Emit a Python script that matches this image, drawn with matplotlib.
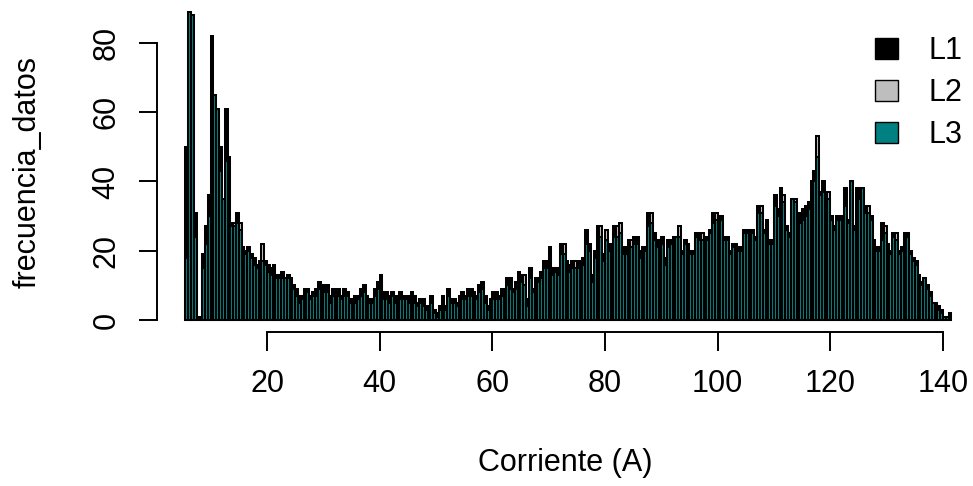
import numpy as np
import matplotlib
matplotlib.use('Agg')
import matplotlib.pyplot as plt
from matplotlib.patches import Patch

plt.rcParams['font.family'] = ['Liberation Sans', 'DejaVu Sans']

# histogramas de corriente por linea, clases de 0.5 A desde 5.5 A
inicio = 5.5
ancho = 0.5

L1 = [50, 84, 80, 31, 0, 1, 19, 27, 36, 82,
      60, 57, 50, 33, 61, 44, 28, 26, 31, 25,
      21, 20, 21, 19, 18, 16, 17, 18, 17, 16,
      15, 16, 13, 13, 14, 12, 13, 12, 10, 9,
      7, 7, 9, 9, 7, 8, 9, 11, 10, 10,
      10, 7, 9, 7, 9, 7, 9, 8, 6, 6,
      7, 7, 9, 10, 7, 6, 6, 9, 11, 13,
      8, 8, 7, 8, 7, 6, 8, 7, 7, 7,
      8, 7, 5, 6, 6, 4, 4, 7, 3, 2,
      4, 7, 4, 9, 6, 6, 5, 7, 8, 7,
      9, 9, 8, 7, 10, 11, 7, 4, 6, 8,
      8, 7, 9, 8, 12, 12, 9, 11, 14, 13,
      12, 6, 15, 9, 12, 12, 14, 17, 17, 19,
      15, 15, 15, 22, 20, 17, 16, 17, 16, 17,
      15, 18, 26, 22, 13, 20, 27, 25, 19, 24,
      22, 21, 27, 25, 26, 21, 21, 23, 22, 24,
      24, 20, 21, 21, 31, 29, 25, 23, 22, 24,
      18, 23, 23, 24, 24, 25, 20, 23, 22, 20,
      20, 25, 25, 23, 22, 24, 26, 31, 30, 24,
      30, 24, 24, 20, 22, 21, 21, 21, 26, 26,
      24, 26, 24, 33, 32, 26, 27, 23, 23, 36,
      32, 38, 34, 27, 25, 35, 33, 27, 31, 32,
      33, 34, 40, 43, 49, 37, 40, 37, 35, 30,
      27, 30, 30, 28, 38, 29, 38, 27, 38, 38,
      38, 33, 31, 30, 23, 21, 21, 28, 25, 22,
      20, 25, 23, 20, 21, 23, 25, 20, 18, 17,
      13, 11, 11, 10, 8, 5, 5, 4, 3, 1, 1, 2]

L2 = [17, 86, 78, 23, 0, 0, 14, 21, 29, 66,
      62, 58, 42, 34, 45, 45, 26, 28, 27, 28,
      17, 18, 19, 17, 15, 14, 15, 22, 15, 13,
      12, 14, 11, 11, 11, 11, 11, 9, 8, 6,
      4, 5, 6, 7, 5, 6, 6, 8, 8, 7,
      7, 4, 6, 5, 6, 5, 6, 6, 4, 3,
      4, 5, 6, 7, 4, 4, 4, 6, 8, 10,
      5, 5, 4, 6, 4, 4, 5, 5, 5, 4,
      5, 4, 3, 4, 3, 2, 2, 4, 1, 1,
      2, 4, 2, 6, 4, 4, 3, 5, 5, 5,
      6, 6, 5, 5, 7, 8, 4, 2, 4, 5,
      5, 5, 6, 6, 9, 8, 7, 8, 10, 10,
      13, 3, 11, 7, 9, 10, 11, 14, 14, 21,
      12, 13, 12, 18, 22, 14, 13, 14, 17, 14,
      12, 15, 21, 19, 10, 17, 23, 27, 16, 26,
      19, 18, 23, 27, 28, 18, 18, 20, 23, 21,
      21, 17, 18, 19, 26, 31, 22, 20, 23, 21,
      15, 20, 21, 22, 23, 27, 18, 21, 20, 18,
      18, 23, 22, 25, 20, 22, 24, 27, 31, 22,
      28, 22, 22, 18, 20, 22, 19, 19, 24, 24,
      22, 24, 22, 30, 33, 24, 29, 21, 21, 32,
      29, 35, 36, 25, 23, 34, 35, 25, 27, 28,
      29, 31, 34, 39, 53, 35, 36, 34, 37, 28,
      25, 28, 28, 30, 32, 27, 37, 25, 35, 34,
      36, 30, 33, 28, 21, 19, 19, 22, 27, 20,
      18, 23, 25, 18, 19, 24, 23, 18, 16, 15,
      11, 9, 12, 8, 6, 4, 4, 3, 1, 1, 0, 1]

L3 = [18, 89, 88, 24, 0, 0, 15, 22, 30, 67,
      65, 61, 43, 35, 46, 47, 27, 27, 28, 26,
      18, 19, 20, 18, 16, 15, 16, 17, 16, 14,
      13, 15, 12, 12, 12, 12, 12, 10, 9, 7,
      5, 6, 7, 8, 6, 7, 7, 9, 9, 8,
      8, 5, 7, 6, 7, 6, 7, 7, 5, 4,
      5, 6, 7, 8, 5, 5, 5, 7, 9, 11,
      6, 6, 5, 7, 5, 5, 6, 6, 6, 5,
      6, 5, 4, 5, 4, 3, 3, 5, 2, 1,
      3, 5, 3, 7, 5, 5, 4, 6, 6, 6,
      7, 7, 6, 6, 8, 9, 5, 3, 5, 6,
      6, 6, 7, 7, 10, 9, 8, 9, 11, 11,
      10, 4, 12, 8, 10, 11, 12, 15, 15, 18,
      13, 14, 13, 19, 19, 15, 14, 15, 15, 15,
      13, 16, 22, 20, 11, 18, 24, 24, 17, 23,
      20, 19, 24, 24, 25, 19, 19, 21, 21, 22,
      22, 18, 19, 20, 27, 28, 23, 21, 21, 22,
      16, 21, 22, 23, 24, 24, 19, 22, 21, 19,
      19, 24, 23, 23, 21, 23, 25, 28, 29, 23,
      29, 23, 23, 19, 21, 21, 20, 20, 25, 25,
      23, 25, 23, 31, 31, 25, 27, 22, 22, 33,
      30, 36, 34, 26, 24, 35, 34, 26, 28, 29,
      30, 32, 35, 40, 47, 36, 37, 35, 35, 29,
      26, 29, 29, 28, 33, 28, 40, 26, 36, 35,
      38, 31, 31, 29, 22, 20, 20, 23, 25, 21,
      19, 24, 23, 19, 20, 25, 24, 19, 17, 16,
      12, 10, 12, 9, 7, 5, 5, 3, 2, 1, 1, 2]

etiquetas = ['L1', 'L2', 'L3']
colores = ['black', '#BEBEBE', '#008080']
ticks_x = [20, 40, 60, 80, 100, 120, 140]
ticks_y = [0, 20, 40, 60, 80]

bordes = inicio + ancho * np.arange(len(L1))

fig = plt.figure(figsize=(9.73, 4.86), dpi=100)
ax = fig.add_axes([157 / 973, 154 / 486, 816 / 973, 332 / 486])

# L1 primero, L3 queda encima
for serie, color in zip([L1, L2, L3], colores):
    ax.bar(bordes, serie, width=ancho, align='edge', color=color,
           edgecolor='black', linewidth=1.45)

ax.set_xlim(0.47, 145.33)
ax.set_ylim(-3.47, 92.4)

for lado in ['top', 'right']:
    ax.spines[lado].set_visible(False)
ax.spines['bottom'].set_bounds(20, 140)
ax.spines['left'].set_bounds(0, 80)
for lado in ['bottom', 'left']:
    ax.spines[lado].set_linewidth(1.4)

ax.set_xticks(ticks_x)
ax.set_yticks(ticks_y)
ax.tick_params(axis='x', length=14, width=1.4, pad=13, labelsize=22)
ax.tick_params(axis='y', length=13, width=1.4, pad=12.5, labelsize=22)
plt.setp(ax.get_yticklabels(), rotation=90, va='center')

ax.set_xlabel('Corriente (A)', fontsize=22)
ax.set_ylabel('frecuencia_datos', fontsize=22)
ax.xaxis.set_label_coords(0.5, -0.35)
ax.yaxis.set_label_coords(-0.14, 0.482)

manejadores = [Patch(facecolor=c, edgecolor='black', linewidth=1.0) for c in colores]
ax.legend(manejadores, etiquetas, loc='upper left',
          bbox_to_anchor=(875 / 973, (486 - 36) / 486),
          bbox_transform=fig.transFigure, frameon=False, fontsize=22,
          borderpad=0, borderaxespad=0, handlelength=0.75, handleheight=0.7,
          handletextpad=1.0, labelspacing=0.4)

fig.savefig('out.png', dpi=100)
